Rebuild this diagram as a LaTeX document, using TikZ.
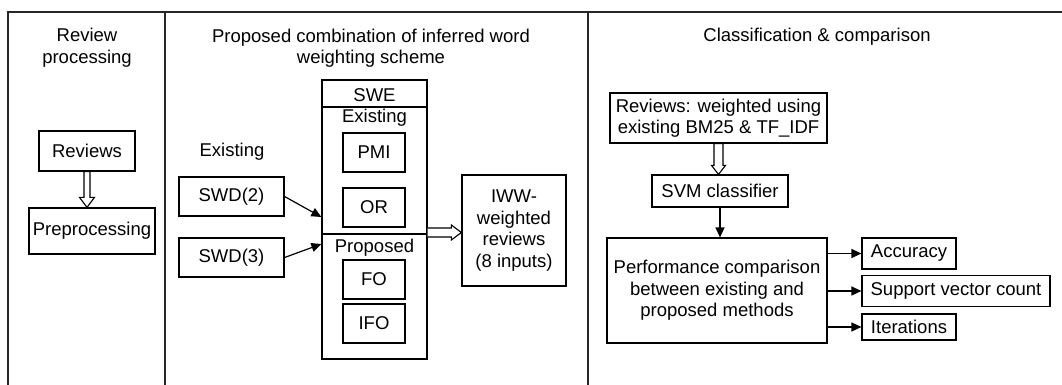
\documentclass[tikz,border=0pt]{standalone}
\usepackage{fontspec}
\setmainfont{Liberation Sans}
\usetikzlibrary{arrows.meta,calc}

\tikzset{
  box/.style={draw, line width=1.2pt, inner sep=0pt, align=center},
  label/.style={inner sep=0pt, align=center},
  frameline/.style={line width=1.2pt, draw=black!85},
  arr/.style={line width=1.2pt, -{Triangle[length=10pt,width=9pt]}},
  hollow/.style={line width=1.1pt, fill=white, line join=miter},
}

\begin{document}
\begin{tikzpicture}[x=1pt, y=-1pt, font=\fontsize{18.5}{21.5}\selectfont]
\useasboundingbox (0,0) rectangle (1062,385);

% panel frame
\draw[frameline] (8,385) -- (8,12) -- (1062,12);
\draw[frameline] (165,12) -- (165,385);
\draw[frameline] (588,12) -- (588,385);

% panel titles
\node[label] (t1) at (87,47.5) {Review\\processing};
\node[label] (t2) at (371,48) {Proposed combination of inferred word\\weighting scheme};
\node[label] (t3) at (817,37) {Classification \& comparison};

% review processing
\node[box, minimum width=96pt, minimum height=40pt] (rev) at (87,151) {Reviews};
\node[box, minimum width=126pt, minimum height=46pt] (pre) at (92,231) {Preprocessing};
\coordinate (pretop) at (rev.south |- pre.north);
\draw[hollow] ([xshift=-3pt]rev.south) -- ([xshift=-3pt,yshift=10pt]pretop)
  -- ([xshift=-7.5pt,yshift=10pt]pretop) -- (pretop)
  -- ([xshift=7.5pt,yshift=10pt]pretop) -- ([xshift=3pt,yshift=10pt]pretop)
  -- ([xshift=3pt]rev.south) -- cycle;

% inferred word weighting
\node[label] (ex) at (232,152) {Existing};
\node[box, minimum width=105pt, minimum height=39pt] (swd2) at (231.5,196.5) {SWD(2)};
\node[box, minimum width=105pt, minimum height=39pt] (swd3) at (231.5,257.5) {SWD(3)};

\node[box, minimum width=105pt, minimum height=279pt] (swe) at (374.5,219.5) {};
\draw[line width=1.2pt] (swe.west |- 0,107) -- (swe.east |- 0,107);
\draw[line width=1.2pt] (swe.west |- 0,234) -- (swe.east |- 0,234);
\node[label] (swet) at (374.5,95) {SWE};
\node[label] (swex) at (374.5,118) {Existing};
\node[label] (swpr) at (374.5,248) {Proposed};
\node[box, minimum width=62pt, minimum height=39pt] (pmi) at (374,152.5) {PMI};
\node[box, minimum width=62pt, minimum height=39pt] (or) at (374,207.5) {OR};
\node[box, minimum width=62pt, minimum height=39pt] (fo) at (374,279.5) {FO};
\node[box, minimum width=62pt, minimum height=39pt] (ifo) at (374,323.5) {IFO};

\coordinate (in2) at (swe.west |- 0,217);
\coordinate (in3) at (swe.west |- 0,244);
\draw[arr] (swd2.east) -- (in2);
\draw[arr] (swd3.east) -- (in3);

\node[box, minimum width=104pt, minimum height=111pt] (iww) at (514,230.5)
  {IWW-\\weighted\\reviews\\(8 inputs)};
\coordinate (sweo) at (swe.east |- 0,232.5);
\coordinate (iwwi) at (iww.west |- 0,232.5);
\draw[hollow] ([yshift=4.5pt]sweo) -- ([xshift=-10pt,yshift=4.5pt]iwwi)
  -- ([xshift=-10pt,yshift=7.5pt]iwwi) -- (iwwi)
  -- ([xshift=-10pt,yshift=-7.5pt]iwwi) -- ([xshift=-10pt,yshift=-4.5pt]iwwi)
  -- ([yshift=-4.5pt]sweo);

% classification and comparison
\node[box, minimum width=217pt, minimum height=50pt] (bm) at (718.5,118)
  {Reviews: weighted using\\existing BM25 \& TF\_IDF};
\node[box, minimum width=136pt, minimum height=32pt] (svm) at (720,191) {SVM classifier};
\coordinate (svmtop) at (bm.south |- svm.north);
\draw[hollow] ([xshift=-4.5pt]bm.south) -- ([xshift=-4.5pt,yshift=9pt]svmtop)
  -- ([xshift=-7pt,yshift=9pt]svmtop) -- (svmtop)
  -- ([xshift=7pt,yshift=9pt]svmtop) -- ([xshift=4.5pt,yshift=9pt]svmtop)
  -- ([xshift=4.5pt]bm.south) -- cycle;

\node[box, minimum width=220pt, minimum height=105pt] (perf) at (717,290.5)
  {Performance comparison\\between existing and\\proposed methods};
\draw[arr] (svm.south) -- (svm.south |- perf.north);

\node[box, minimum width=94pt, minimum height=31pt] (acc) at (909,253.5) {Accuracy};
\node[box, minimum width=188pt, minimum height=31pt] (svc) at (956,291) {Support vector count};
\node[box, minimum width=94pt, minimum height=26pt] (ite) at (909,327) {Iterations};
\draw[arr] (perf.east |- acc.west) -- (acc.west);
\draw[arr] (perf.east |- svc.west) -- (svc.west);
\draw[arr] (perf.east |- ite.west) -- (ite.west);
\end{tikzpicture}
\end{document}
